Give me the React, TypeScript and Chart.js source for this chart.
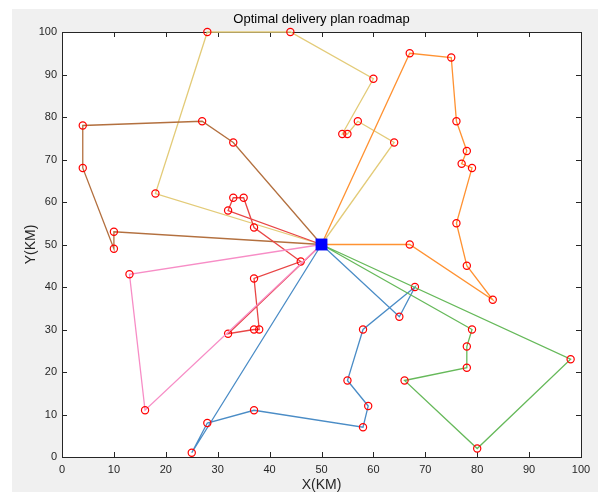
import React, { useEffect, useRef } from "react";
import { Chart, registerables } from "chart.js";

Chart.register(...registerables);

const DEPOT_X = 50;
const DEPOT_Y = 50;

const yellowX = [64, 57, 55, 54, 60, 44, 28, 18];
const yellowY = [74, 79, 76, 76, 89, 100, 100, 62];

const brownX = [33, 27, 4, 4, 10, 10];
const brownY = [74, 79, 78, 68, 49, 53];

const redX = [32, 33, 35, 37, 46, 37, 38, 37, 32];
const redY = [58, 61, 61, 54, 46, 42, 30, 30, 29];

const pinkX = [13, 16];
const pinkY = [43, 11];

const blueX = [25, 28, 37, 58, 59, 55, 58, 68, 65];
const blueY = [1, 8, 11, 7, 12, 18, 30, 40, 33];

const greenX = [98, 80, 66, 78, 78, 79];
const greenY = [23, 2, 18, 21, 26, 30];

const orangeX = [67, 83, 78, 76, 79, 77, 78, 76, 75, 67];
const orangeY = [50, 37, 45, 55, 68, 69, 72, 79, 94, 95];

const routeColors = [
  "#e3cb78",
  "#b3703f",
  "#e84545",
  "#f78dc6",
  "#4a8cc6",
  "#66b95a",
  "#ff9232",
];

const xTicks = [0, 10, 20, 30, 40, 50, 60, 70, 80, 90, 100];
const yTicks = [0, 10, 20, 30, 40, 50, 60, 70, 80, 90, 100];

const TITLE = "Optimal delivery plan roadmap";
const X_LABEL = "X(KM)";
const Y_LABEL = "Y(KM)";

const FONT = "'Liberation Sans', Arial, Helvetica, sans-serif";

function routePoints(xs: number[], ys: number[]) {
  const pts = [{ x: DEPOT_X, y: DEPOT_Y }];
  xs.forEach((x, i) => pts.push({ x, y: ys[i] }));
  pts.push({ x: DEPOT_X, y: DEPOT_Y });
  return pts;
}

const framePlugin = {
  id: "matlabFrame",
  beforeDraw(chart: any) {
    const { ctx, chartArea, width, height } = chart;
    ctx.save();
    ctx.fillStyle = "#ffffff";
    ctx.fillRect(0, 0, width, height);
    ctx.fillStyle = "#f0f0f0";
    ctx.fillRect(12, 9, width - 12, height - 9);
    ctx.fillStyle = "#ffffff";
    ctx.fillRect(
      chartArea.left,
      chartArea.top,
      chartArea.right - chartArea.left,
      chartArea.bottom - chartArea.top
    );
    ctx.restore();
  },
  beforeDatasetsDraw(chart: any) {
    const { ctx, chartArea, scales } = chart;
    const { left, right, top, bottom } = chartArea;
    ctx.save();
    ctx.strokeStyle = "#262626";
    ctx.lineWidth = 1;
    const tl = 5;
    ctx.beginPath();
    xTicks.forEach((t) => {
      const px = Math.round(scales.x.getPixelForValue(t)) + 0.5;
      if (px <= left + 1 || px >= right - 1) return;
      ctx.moveTo(px, bottom);
      ctx.lineTo(px, bottom - tl);
      ctx.moveTo(px, top);
      ctx.lineTo(px, top + tl);
    });
    yTicks.forEach((t) => {
      const py = Math.round(scales.y.getPixelForValue(t)) + 0.5;
      if (py <= top + 1 || py >= bottom - 1) return;
      ctx.moveTo(left, py);
      ctx.lineTo(left + tl, py);
      ctx.moveTo(right, py);
      ctx.lineTo(right - tl, py);
    });
    ctx.stroke();
    ctx.strokeRect(
      Math.round(left) + 0.5,
      Math.round(top) + 0.5,
      Math.round(right - left),
      Math.round(bottom - top)
    );
    ctx.restore();
  },
  afterDraw(chart: any) {
    const { ctx, chartArea } = chart;
    const { left, right, top, bottom } = chartArea;
    ctx.save();
    ctx.fillStyle = "#000000";
    ctx.font = `13px ${FONT}`;
    ctx.textAlign = "center";
    ctx.textBaseline = "middle";
    ctx.fillText(TITLE, (left + right) / 2, 19);

    ctx.fillStyle = "#262626";
    ctx.font = `14px ${FONT}`;
    ctx.fillText(X_LABEL, (left + right) / 2, 485);
    ctx.translate(31, (top + bottom) / 2);
    ctx.rotate(-Math.PI / 2);
    ctx.fillText(Y_LABEL, 0, 0);
    ctx.restore();
  },
};

export default function App() {
  const canvasRef = useRef<HTMLCanvasElement | null>(null);

  useEffect(() => {
    if (!canvasRef.current) return;
    const routes = [
      [yellowX, yellowY],
      [brownX, brownY],
      [redX, redY],
      [pinkX, pinkY],
      [blueX, blueY],
      [greenX, greenY],
      [orangeX, orangeY],
    ];
    const datasets: any[] = routes.map(([xs, ys], i) => {
      const data = routePoints(xs as number[], ys as number[]);
      const last = data.length - 1;
      return {
        data,
        order: 10 - i,
        clip: false,
        showLine: true,
        borderColor: routeColors[i],
        borderWidth: 1.3,
        pointStyle: "circle",
        pointRadius: (c: any) => (c.dataIndex === 0 || c.dataIndex === last ? 0 : 3.6),
        pointBorderColor: "#ff0000",
        pointBackgroundColor: "rgba(0,0,0,0)",
        pointBorderWidth: 1.2,
        pointHoverRadius: 0,
      };
    });
    datasets.push({
      data: [{ x: DEPOT_X, y: DEPOT_Y }],
      order: -5,
      clip: false,
      showLine: false,
      pointStyle: "rect",
      pointRadius: 8.4,
      pointBackgroundColor: "#0000ff",
      pointBorderColor: "#0000ff",
      pointBorderWidth: 0,
    });

    const chart = new Chart(canvasRef.current, {
      type: "scatter",
      data: { datasets },
      options: {
        responsive: false,
        animation: false,
        layout: { padding: { left: 0, top: 32, right: 17, bottom: 0 } },
        plugins: {
          legend: { display: false },
          title: { display: false },
          tooltip: { enabled: false },
        },
        scales: {
          x: {
            type: "linear",
            min: 0,
            max: 100,
            afterFit: (s: any) => {
              s.height = 35;
            },
            afterBuildTicks: (s: any) => {
              s.ticks = xTicks.map((v) => ({ value: v }));
            },
            grid: { display: false, drawTicks: false },
            border: { display: false },
            ticks: {
              padding: 6,
              color: "#262626",
              font: { family: FONT, size: 11 },
              maxRotation: 0,
            },
          },
          y: {
            type: "linear",
            min: 0,
            max: 100,
            afterFit: (s: any) => {
              s.width = 62;
            },
            afterBuildTicks: (s: any) => {
              s.ticks = yTicks.map((v) => ({ value: v }));
            },
            grid: { display: false, drawTicks: false },
            border: { display: false },
            ticks: {
              padding: 5,
              color: "#262626",
              font: { family: FONT, size: 11 },
            },
          },
        },
      },
      plugins: [framePlugin],
    });
    return () => chart.destroy();
  }, []);

  return (
    <div style={{ position: "absolute", left: 0, top: 0, width: 598, height: 492 }}>
      <canvas ref={canvasRef} width={598} height={492} style={{ display: "block" }} />
    </div>
  );
}
